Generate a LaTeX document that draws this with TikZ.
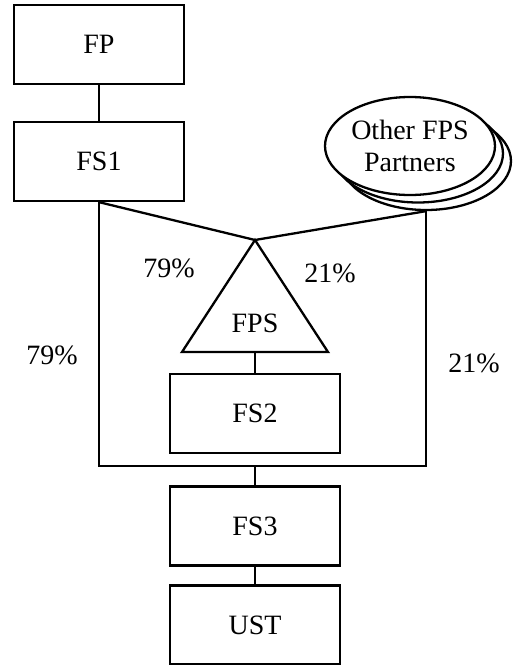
\documentclass[tikz,border=0pt]{standalone}
\usepackage{fontspec}
\setmainfont{Liberation Serif}
\usetikzlibrary{shapes.geometric}

\tikzset{
  unit/.style={draw, line width=2.3pt, minimum width=170pt, minimum height=79pt,
    inner sep=0pt, font=\fontsize{28}{32}\selectfont},
  partner/.style={draw, fill=white, ellipse, line width=2.3pt, minimum width=170pt,
    minimum height=98pt, inner sep=0pt},
  link/.style={line width=2.3pt},
  share/.style={font=\fontsize{28}{32}\selectfont, inner sep=0pt}
}

\begin{document}
\begin{tikzpicture}[x=1pt, y=-1pt]
  \useasboundingbox (0,0) rectangle (514,665);

  % ownership chain on the left
  \node[unit] (fp)  at (99,44.5)   {FP};
  \node[unit] (fs1) at (99,161.5)  {FS1};

  % partner ellipses, stacked back to front
  \node[partner] (p3) at (426,161) {};
  \node[partner] (p2) at (418,153.5) {};
  \node[partner, align=center, font=\fontsize{28}{32}\selectfont] (p1) at (410,146)
    {Other FPS\\Partners};

  % the partnership triangle
  \coordinate (apex)    at (255,240);
  \coordinate (baseL)   at (182,352);
  \coordinate (baseR)   at (328,352);
  \coordinate (tribase) at (255,352);
  \draw[link, line join=miter] (apex) -- (baseL) -- (baseR) -- cycle;
  \node[share] (fps) at (255,323) {FPS};

  % lower units
  \node[unit] (fs2) at (255,413.5) {FS2};
  \node[unit] (fs3) at (255,526)   {FS3};
  \node[unit] (ust) at (255,625)   {UST};

  % bus joining the two ownership branches
  \coordinate (busL) at (99,466);
  \coordinate (busR) at (426,466);
  \coordinate (busM) at (255,466);

  \draw[link] (fp.south) -- (fs1.north);
  \draw[link] (fs1.south) -- (apex);
  \draw[link] (p3.south) -- (apex);
  \draw[link] (tribase) -- (fs2.north);
  \draw[link, line join=miter] (fs1.south) -- (busL) -- (busR) -- (p3.south);
  \draw[link] (busM) -- (fs3.north);
  \draw[link] (fs3.south) -- (ust.north);

  % ownership percentages
  \node[share] (s1) at (169,268) {79\%};
  \node[share] (s2) at (330,273) {21\%};
  \node[share] (s3) at (52,355)  {79\%};
  \node[share] (s4) at (474,363) {21\%};
\end{tikzpicture}
\end{document}
